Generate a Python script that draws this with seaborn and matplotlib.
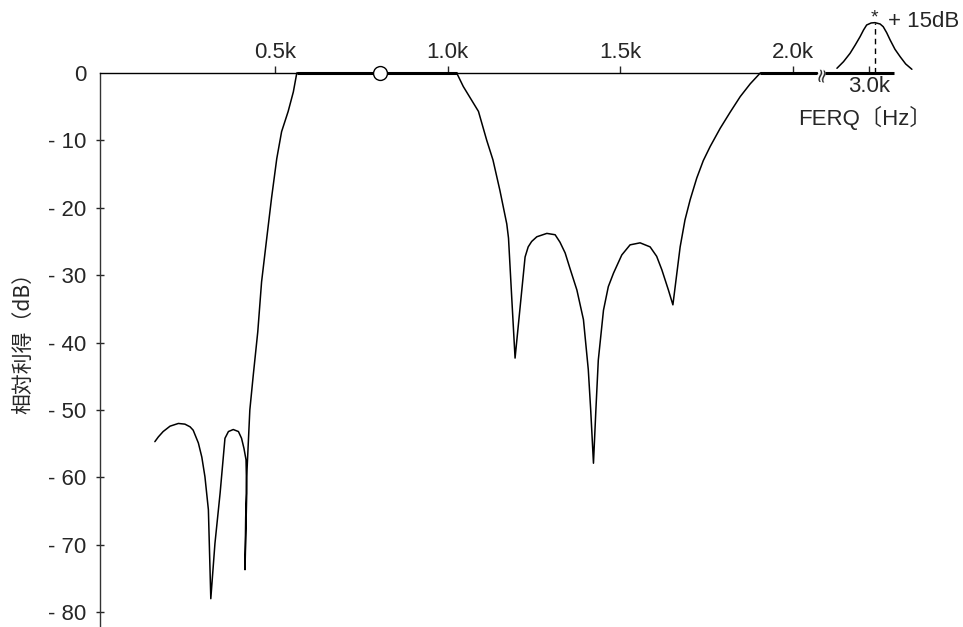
import numpy as np
import pandas as pd
import seaborn as sns
import matplotlib
matplotlib.use("Agg")
import matplotlib.pyplot as plt

# filter response: frequency (kHz) / relative gain (dB)
freq = [0.152, 0.162, 0.176, 0.196, 0.220, 0.239, 0.254, 0.263, 0.278,
        0.288, 0.297, 0.307, 0.314,
        0.326, 0.341, 0.355, 0.365, 0.379, 0.394, 0.403, 0.410, 0.416,
        0.418, 0.413,
        0.415, 0.418, 0.427, 0.437, 0.450, 0.461, 0.476, 0.490, 0.505,
        0.519, 0.538, 0.553, 0.563,
        1.026, 1.045, 1.089, 1.113, 1.131, 1.151, 1.171, 1.176, 1.185, 1.195,
        1.224, 1.233, 1.243, 1.258, 1.287, 1.311, 1.325, 1.340, 1.354,
        1.374, 1.393, 1.407, 1.414, 1.422,
        1.429, 1.436, 1.451, 1.465, 1.480, 1.504, 1.528, 1.557, 1.586,
        1.605, 1.620, 1.639, 1.652,
        1.673, 1.687, 1.702, 1.721, 1.740, 1.760, 1.789, 1.818, 1.847,
        1.876, 1.905, 2.070]
gain = [-54.7, -54.0, -53.2, -52.4, -52.0, -52.1, -52.5, -53.0, -54.9,
        -57.0, -59.9, -64.8, -78.0,
        -69.8, -62.3, -54.2, -53.2, -52.9, -53.2, -54.2, -55.7, -57.4,
        -62.4, -73.7,
        -66.0, -59.9, -50.0, -44.8, -38.4, -31.0, -24.5, -18.5, -12.7,
        -8.7, -5.7, -2.8, 0.0,
        0.0, -2.0, -5.7, -10.0, -12.9, -17.4, -22.4, -24.5, -33.0, -42.3,
        -27.3, -25.8, -25.0, -24.3, -23.8, -24.0, -25.1, -26.7, -29.0,
        -32.2, -36.6, -44.0, -50.0, -57.9,
        -50.0, -42.6, -35.2, -31.7, -29.7, -27.0, -25.5, -25.2, -25.8,
        -27.2, -29.2, -32.2, -34.4,
        -25.8, -21.8, -18.8, -15.6, -13.0, -10.9, -8.2, -5.8, -3.5,
        -1.6, 0.0, 0.0]

# bump past the axis break (height as drawn, labelled +15dB)
peak_freq = [2.907, 2.926, 2.945, 2.960, 2.974, 2.984, 2.993, 3.006, 3.017,
             3.032, 3.041, 3.051, 3.061, 3.075, 3.090, 3.106, 3.124]
peak_gain = [0.70, 1.68, 2.92, 4.16, 5.39, 6.38, 7.12, 7.42, 7.47,
             7.27, 6.87, 5.98, 4.90, 3.52, 2.42, 1.34, 0.55]

xticks = [0.5, 1.0, 1.5, 2.0]
xtick_labels = ["0.5k", "1.0k", "1.5k", "2.0k"]
break_tick = 3.0
break_tick_label = "3.0k"
yticks = [0, -10, -20, -30, -40, -50, -60, -70, -80]
ytick_labels = ["0", "- 10", "- 20", "- 30", "- 40", "- 50", "- 60", "- 70", "- 80"]
marker_freq = 0.804

# broken axis layout
BREAK_SHIFT = 0.78
BREAK_LEFT = 2.07
BREAK_RIGHT = 2.093
AXIS_END = 2.291

sns.set_style("white")
plt.rcParams['font.family'] = ['Liberation Sans', 'Noto Sans CJK JP', 'DejaVu Sans']

fig = plt.figure(figsize=(9.63, 6.27), dpi=100)
ax = fig.add_axes([0.104, 0.0, 0.896, 1.0])

df = pd.DataFrame({'freq': freq, 'gain': gain})
sns.lineplot(data=df, x='freq', y='gain', sort=False, estimator=None,
             color='black', lw=1.1, ax=ax, solid_joinstyle='round')

# flat parts sit on the axis and look heavier
g = np.array(gain)
f = np.array(freq)
ax.plot(np.where(g == 0, f, np.nan), np.where(g == 0, g, np.nan),
        color='black', lw=2.2, solid_capstyle='butt')

bump = pd.DataFrame({'freq': np.array(peak_freq) - BREAK_SHIFT, 'gain': peak_gain})
sns.lineplot(data=bump, x='freq', y='gain', sort=False, estimator=None,
             color='black', lw=1.1, ax=ax, solid_joinstyle='round')
ax.plot([BREAK_RIGHT, AXIS_END], [0, 0], color='black', lw=2.2, solid_capstyle='butt')

ip = int(np.argmax(peak_gain))
px = peak_freq[ip] - BREAK_SHIFT
ax.vlines(px, 0, peak_gain[ip], colors='black', lw=1, linestyles=(0, (4, 3)))
ax.text(px, peak_gain[ip], "*", ha='center', va='baseline', fontsize=14)
ax.text(2.275, 6.8, "+ 15dB", ha='left', va='baseline', fontsize=16)

ax.text((BREAK_LEFT + BREAK_RIGHT) / 2, 0, "≈", rotation=80, ha='center',
        va='center', fontsize=14, family='DejaVu Sans')

ax.plot([marker_freq], [0], marker='o', ms=10, mfc='white', mec='black',
        mew=1, zorder=5)

ax.text(2.2085, -6.6, "FERQ〔Hz〕", ha='center', va='center', fontsize=16)

ax.set_xlim(-0.0064, 2.492)
ax.set_ylim(-82.2, 10.83)

for s in ['top', 'right']:
    ax.spines[s].set_visible(False)
ax.spines['bottom'].set_position(('data', 0))
ax.spines['bottom'].set_bounds(-0.0064, BREAK_LEFT)
ax.spines['left'].set_bounds(-82.2, 0)
ax.spines['bottom'].set_linewidth(1)
ax.spines['left'].set_linewidth(1)
ax.spines['bottom'].set_color('black')
ax.spines['left'].set_color('#333333')

ax.set_xticks(xticks, xtick_labels)
ax.set_xticks([break_tick - BREAK_SHIFT], [break_tick_label], minor=True)
ax.tick_params(axis='x', which='major', direction='in', length=5, width=1,
               pad=-22.4, labelsize=16, bottom=True)
ax.tick_params(axis='x', which='minor', direction='in', length=5, width=1,
               pad=2, labelsize=16, bottom=True)
ax.set_yticks(yticks, ytick_labels)
ax.tick_params(axis='y', direction='inout', length=6, width=1, pad=7,
               labelsize=16, left=True)
ax.yaxis.get_major_ticks()[0].tick1line.set_visible(False)
ax.set_xlabel("")
ax.set_ylabel("")

fig.text(23 / 963, 1 - 338 / 627, "相対利得（dB）", rotation=90, ha='center',
         va='center', fontsize=15, family=['Noto Sans CJK JP', 'DejaVu Sans'])

fig.savefig("out.png", dpi=100)
